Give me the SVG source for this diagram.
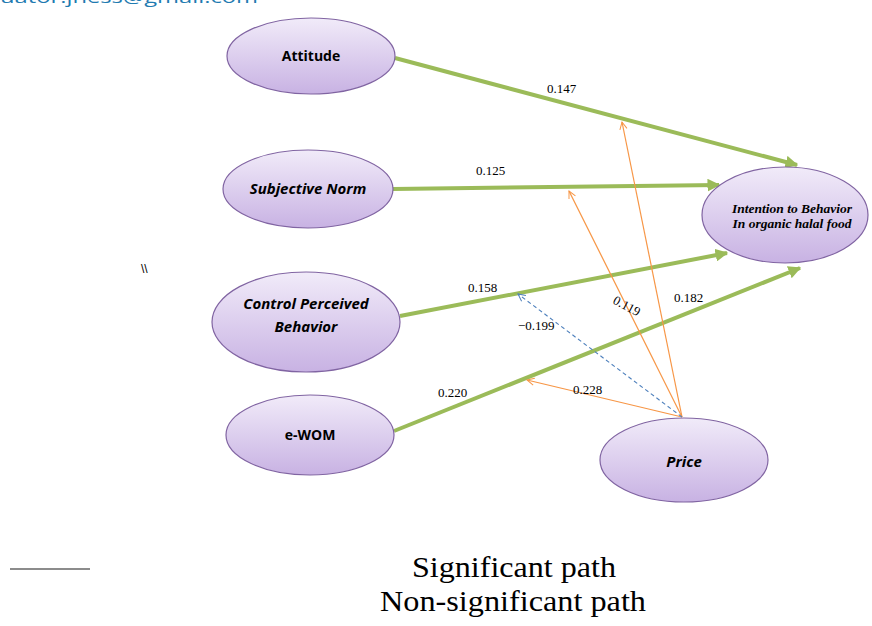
<svg xmlns="http://www.w3.org/2000/svg" width="872" height="626" viewBox="0 0 872 626">
<defs>
<linearGradient id="lav" x1="0" y1="0" x2="0" y2="1">
<stop offset="0" stop-color="#f1ebf9"/>
<stop offset="1" stop-color="#c8b2e3"/>
</linearGradient>
<marker id="ga" viewBox="0 0 10 10" refX="9" refY="5" markerWidth="3.2" markerHeight="3.2" orient="auto" markerUnits="strokeWidth">
<path d="M0,0 L10,5 L0,10 z" fill="#9bbb59"/>
</marker>
<marker id="oa" viewBox="0 0 10 10" refX="9" refY="5" markerWidth="9" markerHeight="9" orient="auto" markerUnits="userSpaceOnUse">
<path d="M1,1 L9,5 L1,9" fill="none" stroke="#f79646" stroke-width="1.1"/>
</marker>
<marker id="ba" viewBox="0 0 10 10" refX="9" refY="5" markerWidth="9" markerHeight="9" orient="auto" markerUnits="userSpaceOnUse">
<path d="M1,1 L9,5 L1,9" fill="none" stroke="#4f81bd" stroke-width="1.1"/>
</marker>
</defs>
<style>
.node ellipse{fill:url(#lav);stroke:#8064a2;stroke-width:1.2}
.lbl{font-family:"Open Sans","Liberation Sans",sans-serif;font-weight:bold;font-size:14px;fill:#000;text-anchor:middle}
.it{font-style:italic;font-size:15px}
.ser{font-family:"Liberation Serif",serif;font-weight:bold;font-style:italic;font-size:13.5px;text-anchor:middle}
.sig{stroke:#9bbb59;stroke-width:4;fill:none;marker-end:url(#ga)}
.ns{stroke:#f79646;stroke-width:1.2;fill:none;marker-end:url(#oa)}
.dash{stroke:#4f81bd;stroke-width:1.1;fill:none;stroke-dasharray:4 3;marker-end:url(#ba)}
.num{font-family:"Liberation Serif",serif;font-size:13px;fill:#000}
.leg{font-family:"Liberation Serif",serif;font-size:29px;fill:#000;text-anchor:middle}
</style>
<rect width="872" height="626" fill="#fff"/>
<text x="0" y="3" font-family="Open Sans, Liberation Sans, sans-serif" font-size="17" fill="#1f7bb1" textLength="258" lengthAdjust="spacingAndGlyphs">uator.jness@gmail.com</text>
<g id="connectors">
<line class="sig" x1="395" y1="58" x2="797" y2="165"/>
<line class="sig" x1="393" y1="189" x2="719" y2="185"/>
<line class="sig" x1="400" y1="316" x2="727" y2="253"/>
<line class="sig" x1="394" y1="431" x2="800" y2="268"/>
<line class="ns" x1="682" y1="417" x2="622" y2="122"/>
<line class="ns" x1="682" y1="417" x2="569" y2="191"/>
<line class="ns" x1="682" y1="417" x2="527" y2="380"/>
<line class="dash" x1="682" y1="417" x2="518" y2="294"/>
<text class="num" x="547" y="93">0.147</text>
<text class="num" x="476" y="175">0.125</text>
<text class="num" x="468" y="292">0.158</text>
<text class="num" x="674" y="302">0.182</text>
<text class="num" x="438" y="397">0.220</text>
<text class="num" x="573" y="394">0.228</text>
<text class="num" x="518" y="330">−0.199</text>
<text class="num" transform="translate(612,303) rotate(28)">0.119</text>
</g>
<g id="attitude" class="node"><ellipse cx="311" cy="56" rx="84" ry="38"/><text class="lbl" x="311" y="61">Attitude</text></g>
<g id="subjective-norm" class="node"><ellipse cx="308" cy="189" rx="85" ry="39"/><text class="lbl it" x="308" y="194">Subjective Norm</text></g>
<g id="control-perceived-behavior" class="node"><ellipse cx="306" cy="322" rx="94" ry="50"/><text class="lbl it" x="306" y="309">Control Perceived</text><text class="lbl it" x="306" y="332">Behavior</text></g>
<g id="ewom" class="node"><ellipse cx="310" cy="435" rx="84" ry="40"/><text class="lbl" x="310" y="440">e-WOM</text></g>
<g id="price" class="node"><ellipse cx="684" cy="460" rx="84" ry="42"/><text class="lbl it" x="684" y="467" font-size="15">Price</text></g>
<g id="intention" class="node"><ellipse cx="785" cy="215" rx="83" ry="48"/><text class="ser" x="792" y="213">Intention to Behavior</text><text class="ser" x="792" y="228">In organic halal food</text></g>
<text x="141" y="273" font-family="Liberation Sans, sans-serif" font-size="12" fill="#000">\\</text>
<g id="legend">
<line x1="10" y1="569" x2="90" y2="569" stroke="#666" stroke-width="1.5"/>
<text class="leg" x="514" y="577" textLength="204" lengthAdjust="spacingAndGlyphs">Significant path</text>
<text class="leg" x="513" y="611" textLength="266" lengthAdjust="spacingAndGlyphs">Non-significant path</text>
</g>
</svg>
